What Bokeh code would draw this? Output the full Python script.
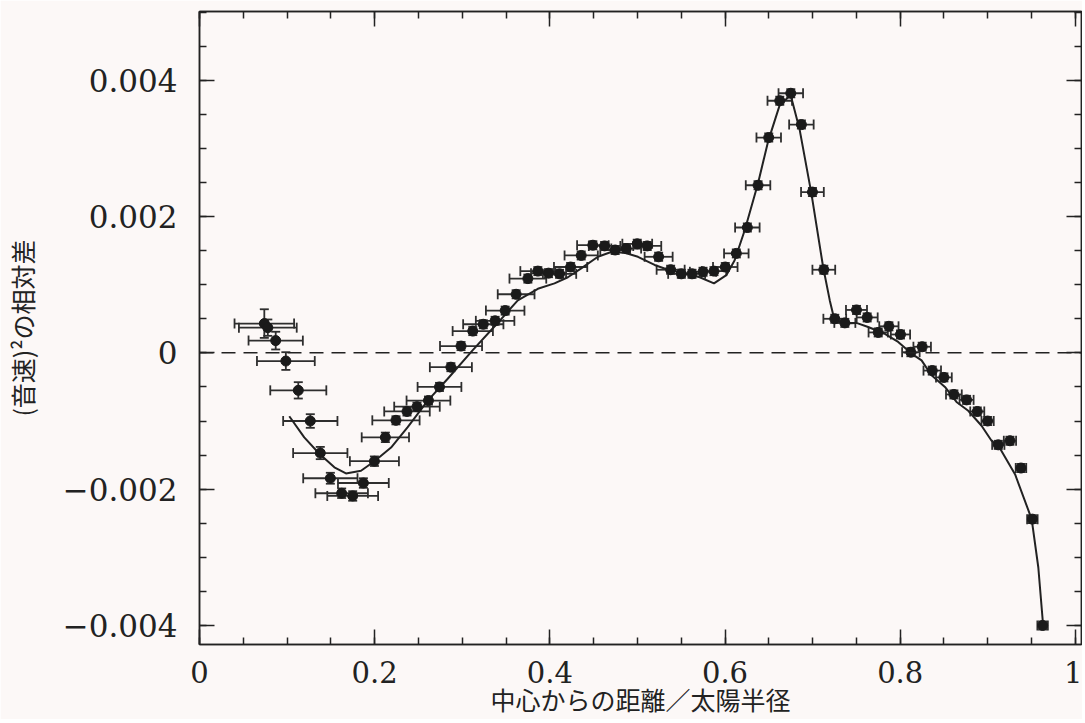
from bokeh.plotting import figure
from bokeh.models import (ColumnDataSource, Whisker, TeeHead, Span, LinearAxis,
                          SingleIntervalTicker, CustomJSTickFormatter, Range1d)
from bokeh.embed import file_html
from bokeh.resources import INLINE

# ---- data: observed points (radius / solar radius, relative difference of sound speed squared)
obs_x = [0.0740, 0.0780, 0.0870, 0.0986, 0.1128, 0.1265, 0.1379, 0.1494, 0.1623, 0.1749,
         0.1871, 0.1997, 0.2122, 0.2243, 0.2369, 0.2483, 0.2614, 0.2740, 0.2870, 0.2986,
         0.3120, 0.3240, 0.3375, 0.3490, 0.3615, 0.3749, 0.3863, 0.3985, 0.4111, 0.4237,
         0.4358, 0.4491, 0.4625, 0.4746, 0.4872, 0.4998, 0.5112, 0.5242, 0.5379, 0.5501,
         0.5623, 0.5749, 0.5874, 0.6003, 0.6129, 0.6255, 0.6377, 0.6499, 0.6625, 0.6751,
         0.6872, 0.6998, 0.7128, 0.7253, 0.7368, 0.7501, 0.7623, 0.7749, 0.7871, 0.8003,
         0.8122, 0.8251, 0.8366, 0.8499, 0.8613, 0.8758, 0.8880, 0.8998, 0.9120, 0.9253,
         0.9379, 0.9509, 0.9626]
obs_y = [0.00043, 0.00037, 0.00018, -0.00012, -0.00055, -0.00100, -0.00147, -0.00184, -0.00206, -0.00210,
         -0.00191, -0.00159, -0.00124, -0.00099, -0.00086, -0.00079, -0.00070, -0.00050, -0.00021, 0.00010,
         0.00032, 0.00042, 0.00047, 0.00062, 0.00086, 0.00109, 0.00120, 0.00117, 0.00116, 0.00126,
         0.00143, 0.00158, 0.00157, 0.00151, 0.00153, 0.00160, 0.00157, 0.00141, 0.00122, 0.00116,
         0.00116, 0.00119, 0.00120, 0.00126, 0.00146, 0.00184, 0.00246, 0.00316, 0.00370, 0.00381,
         0.00335, 0.00236, 0.00122, 0.00050, 0.00044, 0.00063, 0.00052, 0.00030, 0.00039, 0.00027,
         0.00001, 0.00009, -0.00026, -0.00036, -0.00061, -0.00069, -0.00086, -0.00100, -0.00135, -0.00129,
         -0.00169, -0.00244, -0.00400]
obs_xerr = [0.034, 0.033, 0.031, 0.033, 0.032, 0.031, 0.031, 0.031, 0.030, 0.029,
            0.029, 0.028, 0.027, 0.027, 0.026, 0.026, 0.025, 0.025, 0.024, 0.024,
            0.023, 0.023, 0.022, 0.022, 0.021, 0.021, 0.020, 0.020, 0.019, 0.019,
            0.019, 0.018, 0.018, 0.017, 0.017, 0.017, 0.016, 0.016, 0.016, 0.015,
            0.015, 0.015, 0.014, 0.014, 0.014, 0.014, 0.014, 0.014, 0.014, 0.014,
            0.014, 0.013, 0.013, 0.013, 0.012, 0.012, 0.012, 0.011, 0.011, 0.011,
            0.010, 0.010, 0.010, 0.009, 0.009, 0.008, 0.008, 0.007, 0.007, 0.007,
            0.006, 0.006, 0.006]
obs_yerr = [0.00021, 0.00012, 0.00013, 0.00013, 0.00012, 0.00010, 0.00009, 0.00008, 0.00007, 0.00007,
            0.00007, 0.00007, 0.00007, 0.00006, 0.00006, 0.00006, 0.00006, 0.00006, 0.00006, 0.00006,
            0.00006, 0.00006, 0.00006, 0.00006, 0.00006, 0.00006, 0.00006, 0.00006, 0.00006, 0.00006,
            0.00006, 0.00006, 0.00006, 0.00006, 0.00006, 0.00006, 0.00006, 0.00006, 0.00006, 0.00006,
            0.00006, 0.00006, 0.00006, 0.00006, 0.00006, 0.00006, 0.00006, 0.00006, 0.00006, 0.00006,
            0.00006, 0.00006, 0.00006, 0.00006, 0.00006, 0.00006, 0.00006, 0.00006, 0.00006, 0.00006,
            0.00006, 0.00006, 0.00006, 0.00006, 0.00006, 0.00006, 0.00006, 0.00006, 0.00006, 0.00006,
            0.00006, 0.00006, 0.00006]

# ---- data: model curve
model_x = [0.1025, 0.1196, 0.1368, 0.1540, 0.1672, 0.1844, 0.1997, 0.2187, 0.2377, 0.2606,
           0.2834, 0.3120, 0.3370, 0.3634, 0.3863, 0.4053, 0.4206, 0.4358, 0.4549, 0.4700,
           0.4853, 0.5006, 0.5196, 0.5349, 0.5539, 0.5711, 0.5874, 0.6015, 0.6110, 0.6225,
           0.6377, 0.6491, 0.6625, 0.6750, 0.6853, 0.6986, 0.7120, 0.7196, 0.7246, 0.7368,
           0.7500, 0.7634, 0.7825, 0.7977, 0.8129, 0.8244, 0.8358, 0.8511, 0.8643, 0.8777,
           0.8929, 0.9043, 0.9120, 0.9311, 0.9501, 0.9577, 0.9634]
model_y = [-0.00093, -0.00124, -0.00148, -0.00168, -0.00177, -0.00173, -0.00159, -0.00139, -0.00109, -0.00070,
           -0.00038, 0.00004, 0.00039, 0.00077, 0.00094, 0.00102, 0.00111, 0.00124, 0.00141, 0.00148,
           0.00147, 0.00141, 0.00129, 0.00122, 0.00117, 0.00111, 0.00102, 0.00114, 0.00136, 0.00180,
           0.00249, 0.00310, 0.00364, 0.00378, 0.00327, 0.00234, 0.00126, 0.00077, 0.00050, 0.00043,
           0.00044, 0.00038, 0.00028, 0.00016, -0.00001, -0.00011, -0.00033, -0.00050, -0.00072, -0.00085,
           -0.00107, -0.00129, -0.00136, -0.00178, -0.00244, -0.00315, -0.00403]

x_label = "中心からの距離／太陽半径"
y_label = "(音速)²の相対差"

INK = "#222222"
BAR = "#2e2e2e"
BG = "#fcf8f7"

src = ColumnDataSource(dict(
    x=obs_x, y=obs_y,
    xl=[a - e for a, e in zip(obs_x, obs_xerr)],
    xu=[a + e for a, e in zip(obs_x, obs_xerr)],
    yl=[a - e for a, e in zip(obs_y, obs_yerr)],
    yu=[a + e for a, e in zip(obs_y, obs_yerr)],
))

p = figure(frame_width=882, frame_height=633,
           x_range=Range1d(0, 1.007), y_range=Range1d(-0.00428, 0.00501),
           output_backend="svg", toolbar_location=None,
           min_border_left=194, min_border_top=11, min_border_right=1, min_border_bottom=60)
p.background_fill_color = BG
p.border_fill_color = BG
p.outline_line_color = INK
p.outline_line_width = 1.5
p.grid.visible = False

xticker = SingleIntervalTicker(interval=0.2, num_minor_ticks=4)
yticker = SingleIntervalTicker(interval=0.002, num_minor_ticks=4)

xfmt = CustomJSTickFormatter(code="""
if (Math.abs(tick) < 1e-9) return '0';
if (Math.abs(tick - 1) < 1e-9) return '1';
return tick.toFixed(1);
""")
yfmt = CustomJSTickFormatter(code="""
if (Math.abs(tick) < 1e-12) return '0';
return tick.toFixed(3).replace('-', '\\u2212');
""")

def style_axis(ax, ticker):
    ax.ticker = ticker
    ax.major_tick_in = 15
    ax.major_tick_out = 0
    ax.minor_tick_in = 7
    ax.minor_tick_out = 0
    ax.axis_line_color = INK
    ax.axis_line_width = 1.5
    ax.major_tick_line_color = INK
    ax.major_tick_line_width = 1.5
    ax.minor_tick_line_color = INK
    ax.minor_tick_line_width = 1.5

xa = p.xaxis[0]
style_axis(xa, xticker)
xa.formatter = xfmt
xa.major_label_text_font = "DejaVu Serif"
xa.major_label_text_font_size = "29px"
xa.major_label_text_color = INK
xa.major_label_standoff = 16
xa.axis_label = x_label
xa.axis_label_text_font = "Noto Sans CJK JP"
xa.axis_label_text_font_style = "normal"
xa.axis_label_text_font_size = "25px"
xa.axis_label_text_color = INK
xa.axis_label_standoff = -5

ya = p.yaxis[0]
style_axis(ya, yticker)
ya.formatter = yfmt
ya.major_label_text_font = "DejaVu Serif"
ya.major_label_text_font_size = "31px"
ya.major_label_text_color = INK
ya.major_label_standoff = 22
ya.axis_label = y_label
ya.axis_label_text_font = "Noto Sans CJK JP"
ya.axis_label_text_font_style = "normal"
ya.axis_label_text_font_size = "25px"
ya.axis_label_text_color = INK
ya.axis_label_standoff = 20

top = LinearAxis()
style_axis(top, SingleIntervalTicker(interval=0.2, num_minor_ticks=4))
top.major_label_text_font_size = "0px"
top.major_label_standoff = 0
p.add_layout(top, "above")

right = LinearAxis()
style_axis(right, SingleIntervalTicker(interval=0.002, num_minor_ticks=4))
right.major_label_text_font_size = "0px"
right.major_label_standoff = 0
p.add_layout(right, "right")

# zero line
p.add_layout(Span(location=0, dimension="width", line_color=INK, line_width=1.5, line_dash="14 8"))

# model curve
p.line(model_x, model_y, line_color=INK, line_width=2)

# error bars
hx = Whisker(source=src, base="y", lower="xl", upper="xu", dimension="width",
             line_color=BAR, line_width=1.8,
             lower_head=TeeHead(size=10, line_color=BAR, line_width=1.8),
             upper_head=TeeHead(size=10, line_color=BAR, line_width=1.8))
vy = Whisker(source=src, base="x", lower="yl", upper="yu", dimension="height",
             line_color=BAR, line_width=1.8,
             lower_head=TeeHead(size=9, line_color=BAR, line_width=1.8),
             upper_head=TeeHead(size=9, line_color=BAR, line_width=1.8))
p.add_layout(hx)
p.add_layout(vy)

p.scatter("x", "y", source=src, size=10, marker="circle", fill_color="#1a1a1a", line_color="#1a1a1a")

with open("out.html", "w", encoding="utf-8") as f:
    f.write(file_html(p, INLINE))
